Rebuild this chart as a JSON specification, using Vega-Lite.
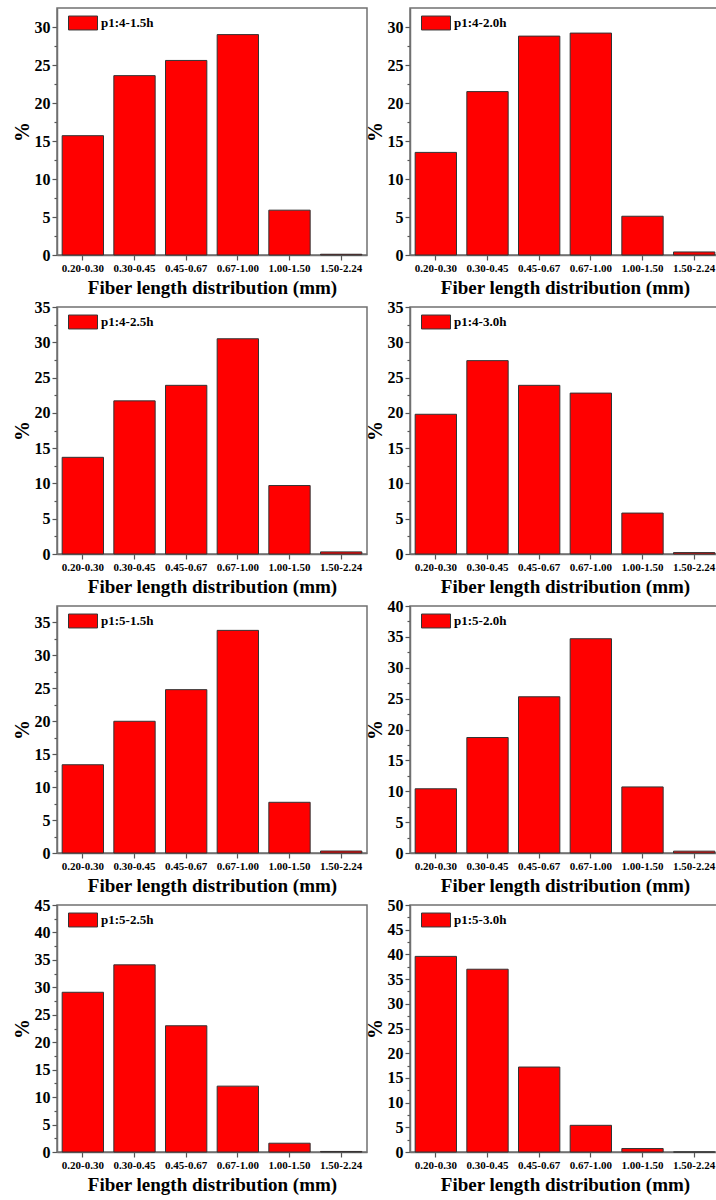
{
  "$schema": "https://vega.github.io/schema/vega-lite/v6.json",
  "padding": {"left": 11, "top": 7, "right": 0, "bottom": 0},
  "background": "white",
  "data": {
    "values": [
      {"sample": "p1:4-1.5h", "range": "0.20-0.30", "pct": 15.7},
      {"sample": "p1:4-1.5h", "range": "0.30-0.45", "pct": 23.6},
      {"sample": "p1:4-1.5h", "range": "0.45-0.67", "pct": 25.6},
      {"sample": "p1:4-1.5h", "range": "0.67-1.00", "pct": 29.0},
      {"sample": "p1:4-1.5h", "range": "1.00-1.50", "pct": 5.9},
      {"sample": "p1:4-1.5h", "range": "1.50-2.24", "pct": 0.1},
      {"sample": "p1:4-2.0h", "range": "0.20-0.30", "pct": 13.5},
      {"sample": "p1:4-2.0h", "range": "0.30-0.45", "pct": 21.5},
      {"sample": "p1:4-2.0h", "range": "0.45-0.67", "pct": 28.8},
      {"sample": "p1:4-2.0h", "range": "0.67-1.00", "pct": 29.2},
      {"sample": "p1:4-2.0h", "range": "1.00-1.50", "pct": 5.1},
      {"sample": "p1:4-2.0h", "range": "1.50-2.24", "pct": 0.4},
      {"sample": "p1:4-2.5h", "range": "0.20-0.30", "pct": 13.7},
      {"sample": "p1:4-2.5h", "range": "0.30-0.45", "pct": 21.7},
      {"sample": "p1:4-2.5h", "range": "0.45-0.67", "pct": 23.9},
      {"sample": "p1:4-2.5h", "range": "0.67-1.00", "pct": 30.5},
      {"sample": "p1:4-2.5h", "range": "1.00-1.50", "pct": 9.7},
      {"sample": "p1:4-2.5h", "range": "1.50-2.24", "pct": 0.3},
      {"sample": "p1:4-3.0h", "range": "0.20-0.30", "pct": 19.8},
      {"sample": "p1:4-3.0h", "range": "0.30-0.45", "pct": 27.4},
      {"sample": "p1:4-3.0h", "range": "0.45-0.67", "pct": 23.9},
      {"sample": "p1:4-3.0h", "range": "0.67-1.00", "pct": 22.8},
      {"sample": "p1:4-3.0h", "range": "1.00-1.50", "pct": 5.8},
      {"sample": "p1:4-3.0h", "range": "1.50-2.24", "pct": 0.2},
      {"sample": "p1:5-1.5h", "range": "0.20-0.30", "pct": 13.4},
      {"sample": "p1:5-1.5h", "range": "0.30-0.45", "pct": 20.0},
      {"sample": "p1:5-1.5h", "range": "0.45-0.67", "pct": 24.8},
      {"sample": "p1:5-1.5h", "range": "0.67-1.00", "pct": 33.8},
      {"sample": "p1:5-1.5h", "range": "1.00-1.50", "pct": 7.7},
      {"sample": "p1:5-1.5h", "range": "1.50-2.24", "pct": 0.3},
      {"sample": "p1:5-2.0h", "range": "0.20-0.30", "pct": 10.4},
      {"sample": "p1:5-2.0h", "range": "0.30-0.45", "pct": 18.7},
      {"sample": "p1:5-2.0h", "range": "0.45-0.67", "pct": 25.3},
      {"sample": "p1:5-2.0h", "range": "0.67-1.00", "pct": 34.7},
      {"sample": "p1:5-2.0h", "range": "1.00-1.50", "pct": 10.7},
      {"sample": "p1:5-2.0h", "range": "1.50-2.24", "pct": 0.3},
      {"sample": "p1:5-2.5h", "range": "0.20-0.30", "pct": 29.1},
      {"sample": "p1:5-2.5h", "range": "0.30-0.45", "pct": 34.1},
      {"sample": "p1:5-2.5h", "range": "0.45-0.67", "pct": 23.0},
      {"sample": "p1:5-2.5h", "range": "0.67-1.00", "pct": 12.0},
      {"sample": "p1:5-2.5h", "range": "1.00-1.50", "pct": 1.6},
      {"sample": "p1:5-2.5h", "range": "1.50-2.24", "pct": 0.1},
      {"sample": "p1:5-3.0h", "range": "0.20-0.30", "pct": 39.6},
      {"sample": "p1:5-3.0h", "range": "0.30-0.45", "pct": 37.0},
      {"sample": "p1:5-3.0h", "range": "0.45-0.67", "pct": 17.2},
      {"sample": "p1:5-3.0h", "range": "0.67-1.00", "pct": 5.4},
      {"sample": "p1:5-3.0h", "range": "1.00-1.50", "pct": 0.7},
      {"sample": "p1:5-3.0h", "range": "1.50-2.24", "pct": 0.0}
    ]
  },
  "columns": 2,
  "spacing": {"row": 0, "column": -4},
  "resolve": {"scale": {"color": "independent", "y": "independent"}, "legend": {"color": "independent"}},
  "concat": [
    {
      "width": 310, "height": 247,
      "transform": [{"filter": "datum.sample === 'p1:4-1.5h'"}],
      "mark": {"type": "bar", "stroke": "#333333", "strokeWidth": 1},
      "encoding": {
        "x": {"field": "range", "type": "ordinal", "sort": null, "title": "Fiber length distribution (mm)"},
        "y": {"field": "pct", "type": "quantitative", "title": "%", "scale": {"domain": [0, 32.5], "nice": false},
          "axis": {"values": [0, 2.5, 5, 7.5, 10, 12.5, 15, 17.5, 20, 22.5, 25, 27.5, 30],
            "labelExpr": "datum.value % 5 === 0 ? datum.label : ''",
            "tickSize": {"condition": {"test": "datum.value % 5 === 0", "value": 5}, "value": 3}}},
        "color": {"field": "sample", "type": "nominal", "scale": {"range": ["#ff0000"]}}
      }
    },
    {
      "width": 310, "height": 247,
      "transform": [{"filter": "datum.sample === 'p1:4-2.0h'"}],
      "mark": {"type": "bar", "stroke": "#333333", "strokeWidth": 1},
      "encoding": {
        "x": {"field": "range", "type": "ordinal", "sort": null, "title": "Fiber length distribution (mm)"},
        "y": {"field": "pct", "type": "quantitative", "title": "%", "scale": {"domain": [0, 32.5], "nice": false},
          "axis": {"values": [0, 2.5, 5, 7.5, 10, 12.5, 15, 17.5, 20, 22.5, 25, 27.5, 30],
            "labelExpr": "datum.value % 5 === 0 ? datum.label : ''",
            "tickSize": {"condition": {"test": "datum.value % 5 === 0", "value": 5}, "value": 3}}},
        "color": {"field": "sample", "type": "nominal", "scale": {"range": ["#ff0000"]}}
      }
    },
    {
      "width": 310, "height": 247,
      "transform": [{"filter": "datum.sample === 'p1:4-2.5h'"}],
      "mark": {"type": "bar", "stroke": "#333333", "strokeWidth": 1},
      "encoding": {
        "x": {"field": "range", "type": "ordinal", "sort": null, "title": "Fiber length distribution (mm)"},
        "y": {"field": "pct", "type": "quantitative", "title": "%", "scale": {"domain": [0, 35], "nice": false},
          "axis": {"values": [0, 2.5, 5, 7.5, 10, 12.5, 15, 17.5, 20, 22.5, 25, 27.5, 30, 32.5, 35],
            "labelExpr": "datum.value % 5 === 0 ? datum.label : ''",
            "tickSize": {"condition": {"test": "datum.value % 5 === 0", "value": 5}, "value": 3}}},
        "color": {"field": "sample", "type": "nominal", "scale": {"range": ["#ff0000"]}}
      }
    },
    {
      "width": 310, "height": 247,
      "transform": [{"filter": "datum.sample === 'p1:4-3.0h'"}],
      "mark": {"type": "bar", "stroke": "#333333", "strokeWidth": 1},
      "encoding": {
        "x": {"field": "range", "type": "ordinal", "sort": null, "title": "Fiber length distribution (mm)"},
        "y": {"field": "pct", "type": "quantitative", "title": "%", "scale": {"domain": [0, 35], "nice": false},
          "axis": {"values": [0, 2.5, 5, 7.5, 10, 12.5, 15, 17.5, 20, 22.5, 25, 27.5, 30, 32.5, 35],
            "labelExpr": "datum.value % 5 === 0 ? datum.label : ''",
            "tickSize": {"condition": {"test": "datum.value % 5 === 0", "value": 5}, "value": 3}}},
        "color": {"field": "sample", "type": "nominal", "scale": {"range": ["#ff0000"]}}
      }
    },
    {
      "width": 310, "height": 247,
      "transform": [{"filter": "datum.sample === 'p1:5-1.5h'"}],
      "mark": {"type": "bar", "stroke": "#333333", "strokeWidth": 1},
      "encoding": {
        "x": {"field": "range", "type": "ordinal", "sort": null, "title": "Fiber length distribution (mm)"},
        "y": {"field": "pct", "type": "quantitative", "title": "%", "scale": {"domain": [0, 37.5], "nice": false},
          "axis": {"values": [0, 2.5, 5, 7.5, 10, 12.5, 15, 17.5, 20, 22.5, 25, 27.5, 30, 32.5, 35],
            "labelExpr": "datum.value % 5 === 0 ? datum.label : ''",
            "tickSize": {"condition": {"test": "datum.value % 5 === 0", "value": 5}, "value": 3}}},
        "color": {"field": "sample", "type": "nominal", "scale": {"range": ["#ff0000"]}}
      }
    },
    {
      "width": 310, "height": 247,
      "transform": [{"filter": "datum.sample === 'p1:5-2.0h'"}],
      "mark": {"type": "bar", "stroke": "#333333", "strokeWidth": 1},
      "encoding": {
        "x": {"field": "range", "type": "ordinal", "sort": null, "title": "Fiber length distribution (mm)"},
        "y": {"field": "pct", "type": "quantitative", "title": "%", "scale": {"domain": [0, 40], "nice": false},
          "axis": {"values": [0, 2.5, 5, 7.5, 10, 12.5, 15, 17.5, 20, 22.5, 25, 27.5, 30, 32.5, 35, 37.5, 40],
            "labelExpr": "datum.value % 5 === 0 ? datum.label : ''",
            "tickSize": {"condition": {"test": "datum.value % 5 === 0", "value": 5}, "value": 3}}},
        "color": {"field": "sample", "type": "nominal", "scale": {"range": ["#ff0000"]}}
      }
    },
    {
      "width": 310, "height": 247,
      "transform": [{"filter": "datum.sample === 'p1:5-2.5h'"}],
      "mark": {"type": "bar", "stroke": "#333333", "strokeWidth": 1},
      "encoding": {
        "x": {"field": "range", "type": "ordinal", "sort": null, "title": "Fiber length distribution (mm)"},
        "y": {"field": "pct", "type": "quantitative", "title": "%", "scale": {"domain": [0, 45], "nice": false},
          "axis": {"values": [0, 2.5, 5, 7.5, 10, 12.5, 15, 17.5, 20, 22.5, 25, 27.5, 30, 32.5, 35, 37.5, 40, 42.5, 45],
            "labelExpr": "datum.value % 5 === 0 ? datum.label : ''",
            "tickSize": {"condition": {"test": "datum.value % 5 === 0", "value": 5}, "value": 3}}},
        "color": {"field": "sample", "type": "nominal", "scale": {"range": ["#ff0000"]}}
      }
    },
    {
      "width": 310, "height": 247,
      "transform": [{"filter": "datum.sample === 'p1:5-3.0h'"}],
      "mark": {"type": "bar", "stroke": "#333333", "strokeWidth": 1},
      "encoding": {
        "x": {"field": "range", "type": "ordinal", "sort": null, "title": "Fiber length distribution (mm)"},
        "y": {"field": "pct", "type": "quantitative", "title": "%", "scale": {"domain": [0, 50], "nice": false},
          "axis": {"values": [0, 2.5, 5, 7.5, 10, 12.5, 15, 17.5, 20, 22.5, 25, 27.5, 30, 32.5, 35, 37.5, 40, 42.5, 45, 47.5, 50],
            "labelExpr": "datum.value % 5 === 0 ? datum.label : ''",
            "tickSize": {"condition": {"test": "datum.value % 5 === 0", "value": 5}, "value": 3}}},
        "color": {"field": "sample", "type": "nominal", "scale": {"range": ["#ff0000"]}}
      }
    }
  ],
  "config": {
    "font": "Liberation Serif",
    "view": {"stroke": "#707070", "strokeWidth": 1.5},
    "scale": {"bandPaddingInner": 0.2, "bandPaddingOuter": 0.1},
    "axis": {
      "grid": false,
      "domainColor": "#707070",
      "domainWidth": 1.5,
      "tickColor": "#555555",
      "tickWidth": 1.2,
      "labelColor": "#000000",
      "titleColor": "#000000",
      "labelFontWeight": "bold",
      "titleFontWeight": "bold",
      "labelOverlap": false
    },
    "axisX": {
      "labelAngle": 0,
      "labelFontSize": 11,
      "labelPadding": 2,
      "tickSize": 5,
      "titleFontSize": 19,
      "titlePadding": 5
    },
    "axisY": {
      "labelFontSize": 16,
      "labelPadding": 2,
      "titleFontSize": 20,
      "titlePadding": 2
    },
    "legend": {
      "orient": "none",
      "legendX": 11,
      "legendY": 0,
      "title": null,
      "padding": 0,
      "symbolType": "M-1,-0.48H1V0.48H-1Z",
      "symbolSize": 841,
      "symbolStrokeColor": "#333333",
      "symbolStrokeWidth": 1,
      "labelFontSize": 13,
      "labelFontWeight": "bold",
      "labelColor": "#000000",
      "labelOffset": 3
    }
  }
}
